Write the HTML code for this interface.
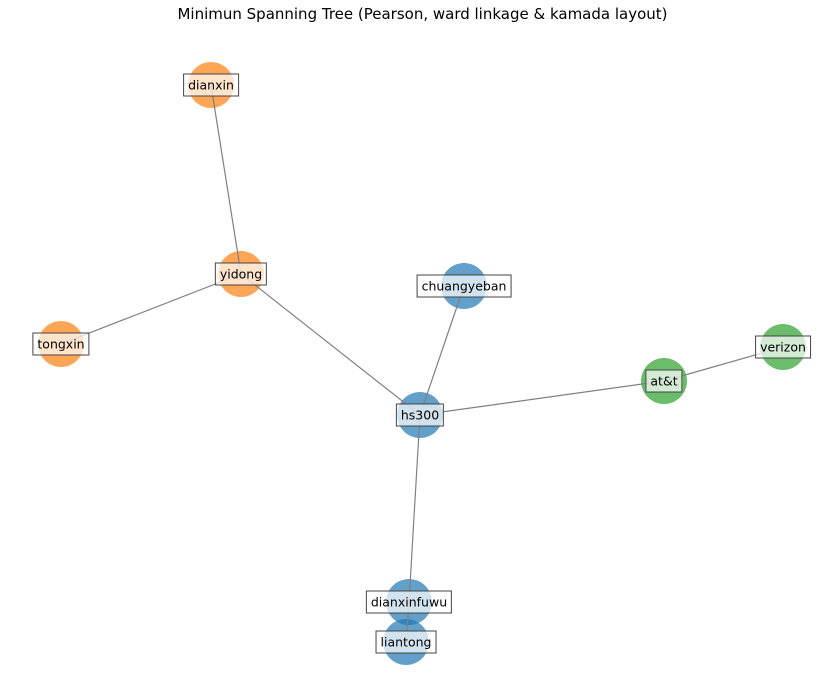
<!DOCTYPE html>
<html><head><style>
body{margin:0;width:831px;height:680px;background:#fff;position:relative;overflow:hidden;font-family:"DejaVu Sans","Liberation Sans",sans-serif}
.t{position:absolute;left:7px;width:831px;top:5px;text-align:center;font-size:15px;color:#000}
.l{position:absolute;transform:translate(-50%,-50%);font-size:12.5px;line-height:17px;padding:2px 4px;border:1px solid #444;background:rgba(255,255,255,0.7);white-space:nowrap;color:#000}
svg{position:absolute;left:0;top:0}
</style></head><body>
<div class="t">Minimun Spanning Tree (Pearson, ward linkage &amp; kamada layout)</div>
<svg width="831" height="680">
<g fill-opacity="0.7">
<circle cx="211" cy="85" r="23" fill="#ff7f0e"/>
<circle cx="241" cy="274" r="23" fill="#ff7f0e"/>
<circle cx="61" cy="344" r="23" fill="#ff7f0e"/>
<circle cx="464" cy="286" r="23" fill="#1f77b4"/>
<circle cx="420" cy="415" r="23" fill="#1f77b4"/>
<circle cx="664" cy="381" r="23" fill="#2ca02c"/>
<circle cx="783" cy="347" r="23" fill="#2ca02c"/>
<circle cx="409" cy="602" r="23" fill="#1f77b4"/>
<circle cx="406" cy="642" r="23" fill="#1f77b4"/>
</g>
<g stroke="#808080" stroke-width="1.2">
<line x1="211" y1="85" x2="241" y2="274"/>
<line x1="241" y1="274" x2="61" y2="344"/>
<line x1="241" y1="274" x2="420" y2="415"/>
<line x1="420" y1="415" x2="464" y2="286"/>
<line x1="420" y1="415" x2="664" y2="381"/>
<line x1="664" y1="381" x2="783" y2="347"/>
<line x1="420" y1="415" x2="409" y2="602"/>
<line x1="409" y1="602" x2="406" y2="642"/>
</g>
</svg>
<div class="l" style="left:211px;top:85px">dianxin</div>
<div class="l" style="left:241px;top:274px">yidong</div>
<div class="l" style="left:61px;top:344px">tongxin</div>
<div class="l" style="left:464px;top:286px">chuangyeban</div>
<div class="l" style="left:420px;top:415px">hs300</div>
<div class="l" style="left:664px;top:381px">at&amp;t</div>
<div class="l" style="left:783px;top:347px">verizon</div>
<div class="l" style="left:409px;top:602px">dianxinfuwu</div>
<div class="l" style="left:406px;top:642px">liantong</div>
</body></html>
